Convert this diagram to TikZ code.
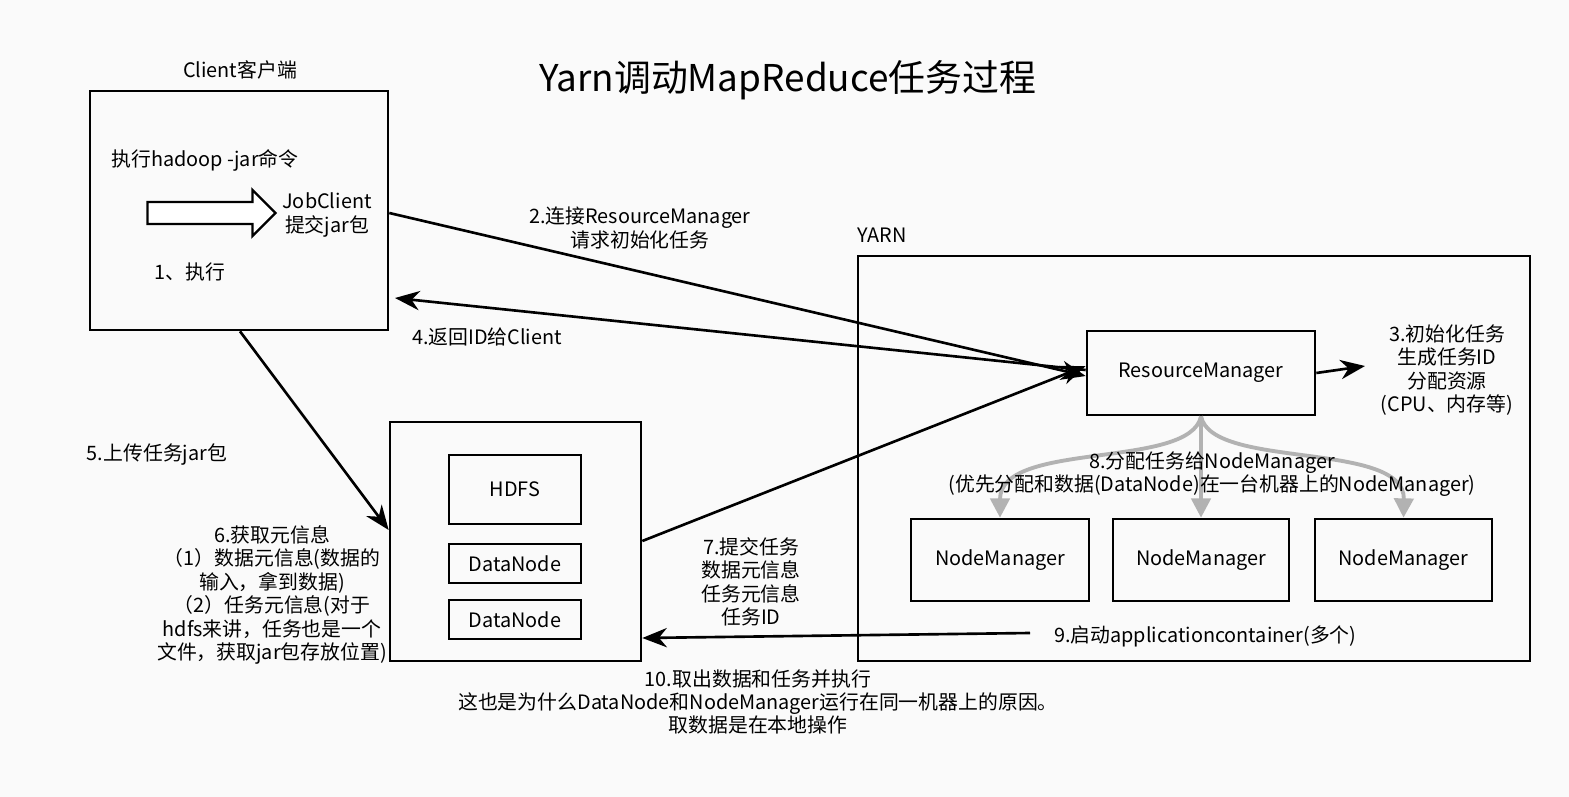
\documentclass[tikz,border=0pt]{standalone}
\usepackage{fontspec}
\setmainfont{Noto Sans CJK SC}
\usetikzlibrary{arrows.meta}
\usetikzlibrary{shapes.arrows}
\usetikzlibrary{positioning}
\tikzset{
  box/.style={draw, line width=1.5pt, inner sep=0pt, font=\fontsize{11.3}{13}\selectfont},
  lbl/.style={font=\fontsize{11.3}{13.3}\selectfont, align=center, inner sep=1pt},
  conn/.style={line width=1.5pt, -{Stealth[length=14pt,width=11pt]}},
  grayconn/.style={line width=2.2pt, gray!60, -{Triangle[length=11pt,width=11pt]}},
}

\begin{document}
\begin{tikzpicture}[x=0.02cm, y=-0.02cm]
      \fill[black!2] (0,0) rectangle (1569,797);
      \useasboundingbox (0,0) rectangle (1569,797);

      \node[lbl, font=\fontsize{21}{24}\selectfont] (title) at (788,80) {Yarn调动MapReduce任务过程};

      % client
      \node[box, minimum width=298*0.02cm, minimum height=239*0.02cm] (client) at (239,210.5) {};
      \node[lbl] (clientlbl) at (240,70) {Client客户端};
      \node[lbl] (cmd) at (205,160) {执行hadoop -jar命令};
      \node[single arrow, draw, line width=1.3pt, fill=white, minimum height=128*0.02cm,
        minimum width=46*0.02cm, single arrow head extend=4pt, inner sep=3pt] (run) at (206,213) {};
      \node[lbl] (jobclient) at (327,215) {JobClient\\提交jar包};
      \node[lbl] (step1) at (190,272) {1、执行};

      % yarn
      \node[lbl] (yarnlbl) at (882,235) {YARN};
      \node[box, minimum width=672*0.02cm, minimum height=405*0.02cm] (yarn) at (1194,458.5) {};
      \node[box, minimum width=228*0.02cm, minimum height=84*0.02cm] (rm) at (1201,373) {ResourceManager};
      \node[box, minimum width=178*0.02cm, minimum height=82*0.02cm] (nm1) at (1000,560) {NodeManager};
      \node[box, minimum width=176*0.02cm, minimum height=82*0.02cm] (nm2) at (1201,560) {NodeManager};
      \node[box, minimum width=177*0.02cm, minimum height=82*0.02cm] (nm3) at (1403.5,560) {NodeManager};
      \node[lbl] (step3) at (1447,370) {3.初始化任务\\生成任务ID\\分配资源\\(CPU、内存等)};
      \coordinate (step3in) at (1365,366);

      % hdfs
      \node[box, minimum width=251*0.02cm, minimum height=239*0.02cm] (hdfsbox) at (515.5,541.5) {};
      \node[box, minimum width=132*0.02cm, minimum height=69*0.02cm] (hdfs) at (515,489.5) {HDFS};
      \node[box, minimum width=132*0.02cm, minimum height=39*0.02cm] (dn1) at (515,563.5) {DataNode};
      \node[box, minimum width=132*0.02cm, minimum height=39*0.02cm] (dn2) at (515,619.5) {DataNode};

      % connectors
      \draw[conn] (client.east |- 0,213) -- (rm.west |- 0,376);
      \draw[conn] (rm.west |- 0,370) -- (395,298);
      \draw[conn] (client.south -| 240,0) -- (hdfsbox.west |- 0,530);
      \draw[conn] (hdfsbox.east |- 0,541) -- (rm.west |- 0,366);
      \draw[conn] (rm.east |- 0,373) -- (step3in);
      \coordinate (c9) at (1030,633);
      \draw[conn] (c9) -- (hdfsbox.east |- 0,638);

      \draw[grayconn] (rm.south) .. controls (1190,470) and (1000,440) .. (nm1.north);
      \draw[grayconn] (rm.south) -- (nm2.north);
      \draw[grayconn] (rm.south) .. controls (1212,470) and (1405,440) .. (nm3.north);

      % labels
      \node[lbl] (step2) at (640,228) {2.连接ResourceManager\\请求初始化任务};
      \node[lbl] (step4) at (487,337) {4.返回ID给Client};
      \node[lbl] (step5) at (157,455) {5.上传任务jar包};
      \node[lbl] (step6) at (272,595) {6.获取元信息\\（1）数据元信息(数据的\\输入，拿到数据)\\（2）任务元信息(对于\\hdfs来讲，任务也是一个\\文件，获取jar包存放位置)};
      \node[lbl] (step7) at (751,582) {7.提交任务\\数据元信息\\任务元信息\\任务ID};
      \node[lbl] (step8) at (1212,474) {8.分配任务给NodeManager\\(优先分配和数据(DataNode)在一台机器上的NodeManager)};
      \node[lbl, anchor=west] (step9) at (1052,636) {9.启动applicationcontainer(多个)};
      \node[lbl] (step10) at (758,702) {10.取出数据和任务并执行\\这也是为什么DataNode和NodeManager运行在同一机器上的原因。\\取数据是在本地操作};
\end{tikzpicture}
\end{document}
